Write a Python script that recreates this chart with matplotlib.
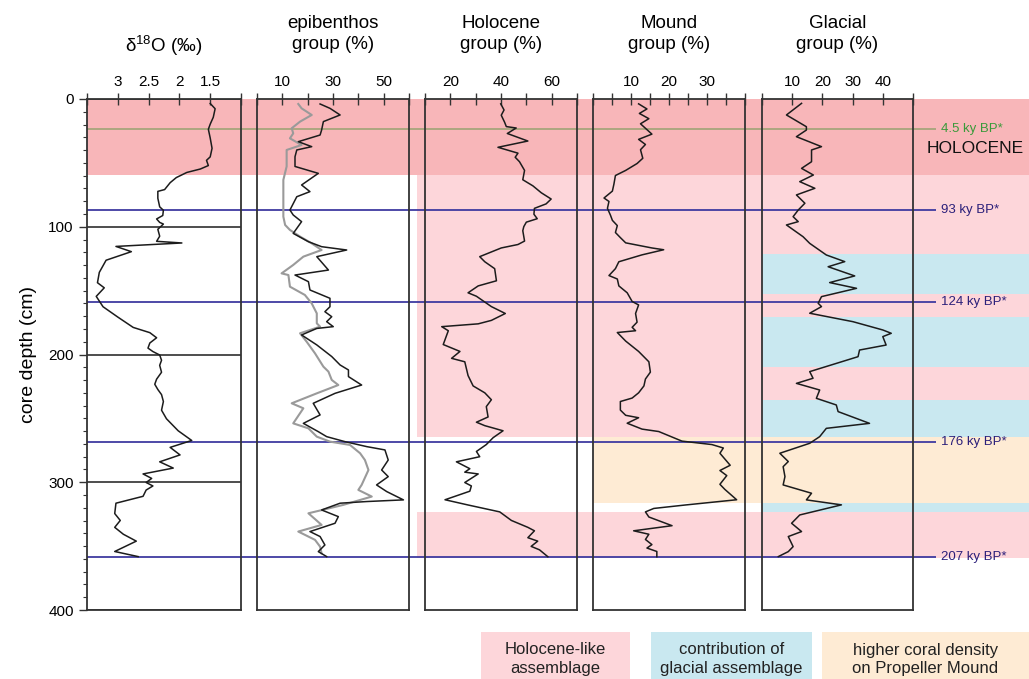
import matplotlib
matplotlib.use('Agg')
import matplotlib.pyplot as plt
from matplotlib.patches import Rectangle
from matplotlib.ticker import FixedLocator, FixedFormatter, MultipleLocator

plt.rcParams['font.family'] = ['Liberation Sans', 'DejaVu Sans']

# ---------------- data ----------------
d18o_depth = [3.5, 7.6, 14.3, 19.7, 23.7, 30.5, 38.6, 45.3, 48.0, 52.1, 54.8, 57.5, 61.5, 65.5, 70.9, 72.3, 77.7,
              84.4, 87.1, 91.2, 93.9, 96.6, 97.9, 102.0, 107.4, 111.4, 112.7, 115.4, 119.5, 126.2, 135.7, 143.8,
              147.8, 154.5, 162.6, 170.7, 178.8, 182.9, 186.9, 191.0, 195.0, 197.7, 200.4, 204.5, 208.5, 213.9,
              219.3, 223.3, 227.4, 231.4, 236.8, 243.6, 250.3, 259.7, 267.3, 272.7, 278.6, 284.0, 288.9, 293.5,
              297.0, 300.2, 302.9, 306.1, 311.0, 316.4, 324.5, 329.9, 335.3, 340.7, 346.1, 354.2, 358.2]
d18o_value = [1.50, 1.42, 1.45, 1.50, 1.53, 1.50, 1.47, 1.50, 1.56, 1.53, 1.66, 1.88, 2.05, 2.15, 2.24, 2.35, 2.35,
              2.32, 2.26, 2.27, 2.37, 2.32, 2.26, 2.35, 2.32, 2.37, 1.96, 3.03, 2.78, 3.19, 3.30, 3.33,
              3.22, 3.35, 3.24, 3.00, 2.75, 2.48, 2.37, 2.48, 2.51, 2.43, 2.32, 2.29, 2.32, 2.29,
              2.37, 2.40, 2.35, 2.29, 2.26, 2.29, 2.21, 2.02, 1.80, 2.15, 1.99, 2.32, 2.10, 2.59,
              2.45, 2.54, 2.43, 2.54, 2.59, 3.03, 3.05, 2.96, 3.05, 2.91, 2.70, 3.05, 2.67]

epi_depth = [3.9, 7.3, 12.5, 17.7, 24.3, 28.2, 33.4, 37.3, 39.9, 45.2, 52.8, 58.2, 67.3, 72.5, 76.5, 86.9, 90.8,
             96.0, 105.2, 111.7, 115.6, 118.2, 123.4, 133.9, 137.8, 143.0, 149.5, 156.0, 162.6, 166.5, 170.4,
             174.3, 178.2, 179.6, 184.7, 192.5, 201.6, 208.2, 212.1, 217.3, 223.9, 230.4, 238.2, 247.3, 253.9,
             260.4, 264.3, 268.2, 272.1, 274.7, 282.6, 290.4, 295.6, 302.1, 307.3, 313.8, 315.1, 316.4, 321.7,
             326.9, 332.1, 338.6, 342.5, 349.1, 354.3, 358.2]
epi_value = [24.9, 28.8, 32.8, 26.2, 25.5, 24.9, 16.3, 21.6, 15.7, 15.0, 15.0, 24.2, 17.6, 20.9, 15.7, 13.0, 14.3,
             17.6, 14.3, 20.3, 25.5, 35.4, 23.6, 28.2, 15.0, 20.3, 20.9, 28.8, 28.8, 26.8, 29.5,
             27.5, 30.1, 23.6, 17.6, 23.6, 29.5, 32.8, 36.1, 36.1, 41.3, 30.8, 22.2, 24.9, 18.3,
             24.2, 27.5, 34.7, 43.3, 50.5, 51.8, 49.2, 51.8, 47.2, 51.2, 57.8, 43.3, 32.8, 25.5,
             32.1, 30.8, 20.9, 24.9, 26.8, 24.2, 27.5]

epi_grey_depth = [3.9, 7.3, 12.5, 17.7, 22.9, 26.9, 30.8, 36.0, 39.9, 52.8, 63.3, 81.6, 92.1, 98.6, 102.5, 107.7,
                  113.0, 118.2, 123.4, 129.9, 136.5, 137.8, 146.9, 153.4, 160.0, 167.8, 175.6, 178.2, 183.4, 190.0,
                  199.1, 209.5, 213.4, 219.9, 223.9, 230.4, 238.2, 242.1, 253.9, 257.8, 264.3, 268.2, 270.8, 277.3,
                  282.6, 290.4, 302.1, 306.0, 311.2, 317.7, 324.3, 333.4, 338.6, 345.1, 350.4, 355.6]
epi_grey_value = [16.3, 17.6, 21.6, 17.0, 13.7, 14.3, 13.0, 17.6, 11.7, 11.7, 10.4, 10.4, 10.4, 11.1, 13.0, 17.0,
                  21.6, 25.5, 18.3, 14.3, 9.7, 12.4, 13.0, 18.9, 21.6, 23.6, 23.6, 24.9, 17.0, 19.6,
                  22.9, 26.2, 28.2, 29.5, 32.1, 23.6, 13.7, 18.3, 14.3, 20.3, 23.6, 28.8, 36.7, 40.7,
                  42.6, 44.0, 41.3, 40.0, 45.3, 34.1, 20.3, 25.5, 16.3, 22.9, 24.9, 25.5]

hol_depth = [3.8, 8.6, 12.7, 18.1, 21.6, 22.7, 27.0, 32.9, 37.8, 42.4, 45.6, 49.1, 55.9, 63.2, 68.0, 73.4, 78.3,
             82.1, 85.6, 90.2, 93.7, 96.4, 99.9, 103.1, 111.2, 113.9, 116.6, 123.4, 127.4, 132.8, 142.3, 146.3,
             151.7, 154.4, 162.5, 167.9, 173.3, 176.0, 178.2, 181.4, 192.2, 197.6, 203.0, 205.7, 216.5, 224.6,
             230.0, 235.4, 240.8, 248.9, 253.0, 255.7, 259.7, 265.1, 270.5, 275.9, 280.0, 284.0, 289.4, 292.1,
             293.5, 300.2, 302.9, 307.0, 313.7, 317.8, 323.2, 329.9, 335.3, 338.0, 343.4, 346.1, 350.2, 352.9, 358.3]
hol_value = [39.9, 41.2, 40.1, 41.4, 42.1, 46.0, 42.5, 50.6, 38.8, 46.7, 45.6, 47.3, 49.3, 48.6, 52.6, 55.9, 59.8,
             57.8, 53.2, 53.0, 54.3, 50.0, 49.0, 48.6, 49.3, 46.7, 40.1, 31.6, 33.6, 37.5, 38.2, 31.0,
             27.0, 30.3, 36.2, 41.7, 36.2, 31.0, 16.6, 19.2, 17.2, 23.8, 20.5, 25.7, 27.0, 29.0,
             33.6, 36.2, 34.2, 34.9, 30.3, 33.6, 40.8, 36.9, 34.2, 30.3, 31.6, 22.4, 27.7, 25.7,
             31.0, 25.7, 28.3, 27.7, 17.9, 27.0, 39.5, 44.1, 50.6, 53.2, 50.6, 54.5, 51.9, 55.2, 58.5]

mound_depth = [3.8, 7.8, 11.3, 15.4, 19.4, 27.5, 31.6, 35.6, 39.7, 46.4, 50.5, 55.9, 59.9, 66.7, 72.1, 77.5, 80.2,
               85.6, 91.0, 95.0, 99.1, 104.5, 108.5, 112.6, 116.6, 118.0, 122.0, 127.4, 132.8, 138.2, 140.9,
               146.3, 151.7, 158.5, 161.2, 167.9, 174.7, 178.7, 181.4, 182.8, 189.5, 197.6, 205.7, 213.8, 219.2,
               224.6, 230.0, 234.1, 236.8, 243.5, 247.6, 249.5, 253.8, 258.4, 260.3, 267.8, 270.5, 273.2, 277.3,
               286.7, 290.8, 294.8, 301.6, 305.6, 313.7, 317.8, 320.5, 323.2, 327.2, 334.0, 338.0, 340.7, 344.8,
               348.8, 351.5, 354.2, 358.3]
mound_value = [12.0, 14.2, 12.2, 14.7, 12.5, 15.5, 12.0, 13.8, 12.5, 13.1, 11.6, 8.6, 5.9, 5.5, 5.1, 2.9, 4.2,
               3.8, 4.6, 5.1, 6.4, 5.9, 7.2, 8.6, 15.5, 18.6, 12.9, 6.8, 5.9, 4.2, 6.4,
               6.8, 9.0, 10.3, 12.0, 11.2, 11.6, 10.3, 11.2, 6.4, 8.6, 12.0, 14.7, 15.1, 13.8,
               13.4, 12.0, 10.3, 7.2, 7.2, 8.6, 12.0, 9.0, 12.9, 17.3, 23.4, 31.3, 34.3, 33.4,
               36.1, 33.4, 35.2, 33.4, 34.7, 37.8, 24.3, 16.0, 13.8, 14.7, 20.8, 10.7, 14.7, 13.8,
               15.5, 14.2, 16.8, 16.8]

gla_depth = [3.4, 12.5, 21.7, 24.3, 29.5, 37.3, 39.9, 49.1, 54.3, 59.5, 64.7, 69.9, 75.1, 81.6, 86.9, 92.1, 96.0,
             98.6, 107.8, 113.0, 122.1, 127.3, 131.3, 138.5, 143.7, 148.2, 154.7, 159.9, 162.5, 167.7, 174.3,
             180.8, 183.4, 186.0, 192.6, 196.5, 201.7, 213.4, 218.6, 222.6, 227.8, 234.3, 239.5, 244.7, 253.9,
             257.8, 264.3, 269.5, 277.3, 283.8, 287.8, 295.6, 302.1, 308.6, 313.8, 317.7, 325.6, 332.1, 338.6,
             342.5, 350.4, 354.3, 358.2]
gla_value = [13.1, 8.1, 14.7, 14.7, 11.4, 19.7, 16.4, 16.4, 13.1, 17.0, 12.5, 17.5, 11.4, 14.2, 12.0, 10.3, 12.0,
             8.1, 13.6, 15.8, 21.3, 27.4, 21.9, 30.7, 22.4, 31.3, 19.7, 18.6, 19.7, 15.8, 30.1,
             40.0, 42.8, 40.0, 41.1, 32.3, 31.8, 15.8, 16.9, 11.4, 19.1, 18.0, 24.6, 25.2, 35.6,
             21.3, 19.1, 15.8, 5.9, 8.7, 7.0, 7.6, 7.0, 16.4, 14.7, 26.3, 12.5, 9.8, 13.1,
             8.7, 10.3, 8.7, 5.4]

# depth intervals of the shaded zones (cm)
holocene_zone = [(0, 59.5)]
holocene_like_zones = [(59.5, 264.6), (323, 359)]
glacial_zones = [(121, 153), (171, 210), (235.6, 264.6), (316, 323)]
coral_zones = [(264.6, 316)]

# age tie points
age_labels = ['4.5 ky BP*', '93 ky BP*', '124 ky BP*', '176 ky BP*', '207 ky BP*']
age_depths = [23.2, 87.1, 158.6, 268.4, 358.2]

panel_titles = ['\u03b4$\\mathregular{^{18}}$O (\u2030)', 'epibenthos\ngroup (%)', 'Holocene\ngroup (%)',
                'Mound\ngroup (%)', 'Glacial\ngroup (%)']
panel_xlims = [(3.5, 1.0), (0, 60), (10, 70), (0, 40), (0, 50)]
panel_ticks = [[3.5, 3, 2.5, 2, 1.5, 1.0], [0, 10, 20, 30, 40, 50, 60], [10, 20, 30, 40, 50, 60, 70],
               [0, 5, 10, 15, 20, 25, 30, 35, 40], [0, 10, 20, 30, 40, 50]]
panel_ticklabels = [['', '3', '2.5', '2', '1.5', ''], ['', '10', '', '30', '', '50', ''],
                    ['', '20', '', '40', '', '60', ''], ['', '', '10', '', '20', '', '30', '', ''],
                    ['', '10', '20', '30', '40', '']]

legend_texts = ['Holocene-like\nassemblage', 'contribution of\nglacial assemblage',
                'higher coral density\non Propeller Mound']

# ---------------- style / layout ----------------
C_HOL = '#f8b6b9'
C_HOL_LIKE = '#fdd6da'
C_GLA = '#c9e8f0'
C_CORAL = '#feebd4'
C_LINE = '#1c1c1c'
C_GREY = '#9a9a9a'
C_BLUE = '#3f3aa0'
C_GREEN_LINE = '#a7a57c'

W, H = 1029, 679
TOP, BOT = 99, 610
panels_px = [(87, 241), (257, 409), (425, 577), (593, 745), (762, 913)]

fig = plt.figure(figsize=(W / 100, H / 100), dpi=100)

# background axes in pixel-x / depth-y coordinates (for bands + tie lines)
bg = fig.add_axes([0, (H - BOT) / H, 1, (BOT - TOP) / H], zorder=0)
bg.set_xlim(0, W)
bg.set_ylim(400, 0)
bg.axis('off')


def band(x0, x1, d0, d1, color):
    bg.add_patch(Rectangle((x0, d0), x1 - x0, d1 - d0, facecolor=color, edgecolor='none', zorder=0))


for d0, d1 in holocene_zone:
    band(87, W, d0, d1, C_HOL)
for d0, d1 in holocene_like_zones:
    band(417, W, d0, d1, C_HOL_LIKE)
for d0, d1 in glacial_zones:
    band(762, W, d0, d1, C_GLA)
for d0, d1 in coral_zones:
    band(593, W, d0, d1, C_CORAL)

for i, (lab, dep) in enumerate(zip(age_labels, age_depths)):
    lc = C_GREEN_LINE if i == 0 else C_BLUE
    tc = '#3a9a3a' if i == 0 else '#2b1f7a'
    bg.hlines(dep, 87, 936, colors=lc, lw=1.3, zorder=1)
    bg.text(941, dep, lab, color=tc, fontsize=9.5, va='center', ha='left', zorder=3)
bg.text(975, 38.4, 'HOLOCENE', fontsize=12.5, va='center', ha='center', color='#111111', zorder=3)

series = [
    [(d18o_value, d18o_depth, C_LINE, 1.1)],
    [(epi_grey_value, epi_grey_depth, C_GREY, 1.5), (epi_value, epi_depth, C_LINE, 1.1)],
    [(hol_value, hol_depth, C_LINE, 1.1)],
    [(mound_value, mound_depth, C_LINE, 1.1)],
    [(gla_value, gla_depth, C_LINE, 1.1)],
]

axes = []
for i, (x0, x1) in enumerate(panels_px):
    ax = fig.add_axes([x0 / W, (H - BOT) / H, (x1 - x0) / W, (BOT - TOP) / H], zorder=2)
    ax.set_facecolor('none')
    ax.set_ylim(400, 0)
    ax.set_xlim(*panel_xlims[i])
    for xs, ys, col, lw in series[i]:
        ax.plot(xs, ys, color=col, lw=lw, zorder=3)
    ax.xaxis.set_ticks_position('top')
    ax.xaxis.set_major_locator(FixedLocator(panel_ticks[i]))
    ax.xaxis.set_major_formatter(FixedFormatter(panel_ticklabels[i]))
    ax.tick_params(axis='x', direction='inout', length=9, width=1.0, color='#333333',
                   labelsize=11, pad=3)
    for sp in ax.spines.values():
        sp.set_color('#333333')
        sp.set_linewidth(1.3)
    if i == 0:
        ax.yaxis.set_major_locator(MultipleLocator(100))
        ax.yaxis.set_minor_locator(MultipleLocator(10))
        ax.tick_params(axis='y', which='major', direction='out', length=6, width=1.0, labelsize=11,
                       color='#333333')
        ax.tick_params(axis='y', which='minor', direction='out', length=3, width=0.8, color='#333333')
        ax.grid(axis='y', which='major', color='#1c1c1c', lw=1.1)
        ax.set_ylabel('core depth (cm)', fontsize=14, labelpad=8)
        ax.text(0.5, 1 + 53 / (BOT - TOP), panel_titles[i], transform=ax.transAxes, ha='center',
                va='center', fontsize=13.5)
    else:
        ax.set_yticks([])
        ax.text(0.5, 1 + 65 / (BOT - TOP), panel_titles[i], transform=ax.transAxes, ha='center',
                va='center', fontsize=13.5, linespacing=1.3)
    axes.append(ax)

# legend boxes along the bottom
legend_colors = [C_HOL_LIKE, C_GLA, C_CORAL]
legend_px = [(481, 630), (651, 812), (822, 1029)]
for (x0, x1), col, txt in zip(legend_px, legend_colors, legend_texts):
    fig.add_artist(Rectangle((x0 / W, 0), (x1 - x0) / W, 47 / H, transform=fig.transFigure,
                             facecolor=col, edgecolor='none'))
    fig.text((x0 + x1) / 2 / W, 20 / H, txt, ha='center', va='center', fontsize=12, linespacing=1.25,
             color='#222222')

fig.savefig('out.png', dpi=100)
